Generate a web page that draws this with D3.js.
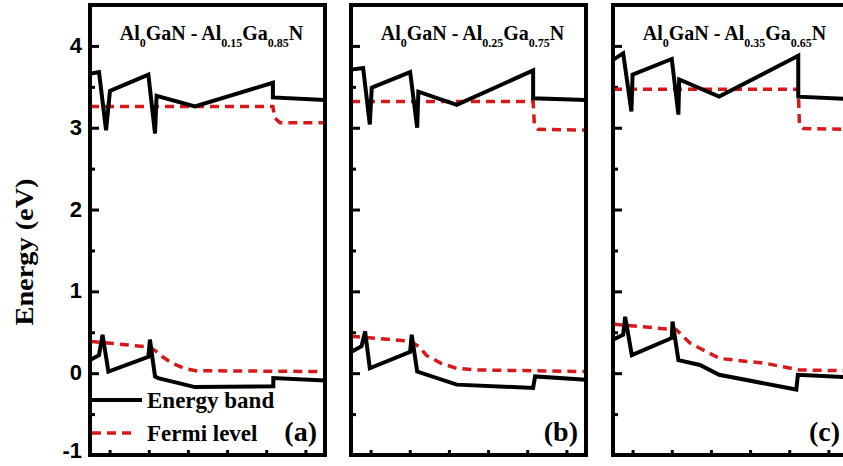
<!DOCTYPE html>
<meta charset="utf-8">
<style>
  body { margin: 0; background: #fff; }
  svg { display: block; font-family: "Liberation Serif", "Times New Roman", serif; font-weight: bold; }
</style>
<div id="chart"></div>
<script src="https://d3js.org/d3.v7.min.js"></script>
<script>
// panel tags and barrier composition
var panelTags = ["(a)", "(b)", "(c)"];
var alFraction = ["0.15", "0.25", "0.35"];
var gaFraction = ["0.85", "0.75", "0.65"];

// axis ticks
var yMajorTicks = [-1, 0, 1, 2, 3, 4];
var yMinorTicks = [-0.5, 0.5, 1.5, 2.5, 3.5];
var xTicks = [0.5, 1.5, 2.5, 3.5, 4.5, 5.5];

// conduction band edge [position, energy eV]
var condA = [[0, 3.66], [0.23, 3.68], [0.41, 2.97], [0.51, 3.45], [1.49, 3.65], [1.66, 2.93], [1.70, 3.39], [2.68, 3.26], [4.67, 3.55], [4.67, 3.37], [6, 3.34]];
var condB = [[0, 3.71], [0.31, 3.73], [0.48, 3.04], [0.53, 3.49], [1.51, 3.68], [1.69, 3.00], [1.72, 3.44], [2.70, 3.28], [4.65, 3.70], [4.65, 3.36], [6, 3.34]];
var condC = [[0, 3.83], [0.26, 3.91], [0.47, 3.20], [0.50, 3.65], [1.50, 3.84], [1.67, 3.16], [1.69, 3.59], [2.71, 3.38], [4.73, 3.88], [4.73, 3.38], [6, 3.35]];

// valence band edge
var valA = [[0, 0.16], [0.23, 0.22], [0.32, 0.47], [0.47, 0.02], [1.49, 0.20], [1.53, 0.41], [1.66, -0.04], [1.74, -0.06], [2.68, -0.17], [4.68, -0.16], [4.68, -0.06], [6, -0.09]];
var valB = [[0, 0.26], [0.27, 0.33], [0.36, 0.51], [0.48, 0.06], [1.51, 0.26], [1.55, 0.47], [1.69, 0.02], [2.70, -0.14], [4.65, -0.18], [4.70, -0.04], [6, -0.08]];
var valC = [[0, 0.41], [0.26, 0.47], [0.31, 0.69], [0.48, 0.22], [1.50, 0.43], [1.52, 0.63], [1.67, 0.16], [2.22, 0.10], [2.71, -0.02], [4.68, -0.20], [4.72, -0.02], [6, -0.05]];

// Fermi level (upper and lower)
var fermiTopA = [[0, 3.26], [4.67, 3.26], [4.72, 3.12], [4.85, 3.06], [6, 3.06]];
var fermiTopB = [[0, 3.32], [4.65, 3.32], [4.68, 3.05], [4.78, 2.98], [6, 2.97]];
var fermiTopC = [[0, 3.47], [4.73, 3.47], [4.76, 3.04], [4.86, 2.99], [6, 2.98]];
var fermiLowA = [[0, 0.39], [1.5, 0.32], [1.65, 0.28], [1.85, 0.20], [2.1, 0.12], [2.4, 0.06], [2.7, 0.03], [6, 0.02]];
var fermiLowB = [[0, 0.45], [1.51, 0.39], [1.75, 0.32], [1.92, 0.22], [2.3, 0.12], [2.69, 0.06], [3.2, 0.04], [6, 0.02]];
var fermiLowC = [[0, 0.60], [1.62, 0.53], [1.96, 0.37], [2.72, 0.18], [3.9, 0.12], [4.75, 0.04], [6, 0.03]];

var conduction = [condA, condB, condC];
var valence = [valA, valB, valC];
var fermiTop = [fermiTopA, fermiTopB, fermiTopC];
var fermiLow = [fermiLowA, fermiLowB, fermiLowC];

var W = 843, H = 466;
var panelLeft = [90, 351, 613];
var panelW = 235;
var red = "#d7191c";

var svg = d3.select("#chart").append("svg")
    .attr("width", W)
    .attr("height", H);

var x = d3.scaleLinear().domain([0, 6]).range([0, panelW]);
var y = d3.scaleLinear().domain([-1, 4.5]).range([455, 5]);

var line = d3.line()
    .x(function(d) { return x(d[0]); })
    .y(function(d) { return y(d[1]); });

panelTags.forEach(function(tag, i) {
  var g = svg.append("g").attr("transform", "translate(" + panelLeft[i] + ",0)");

  // y ticks, pointing inward
  var ya = g.append("g").call(d3.axisLeft(y).tickValues(yMajorTicks).tickSize(-9).tickPadding(8));
  var ym = g.append("g").call(d3.axisLeft(y).tickValues(yMinorTicks).tickSize(-5).tickFormat(""));
  var xa = g.append("g").attr("transform", "translate(0," + y(-1) + ")")
      .call(d3.axisBottom(x).tickValues(xTicks).tickSize(-5).tickFormat(""));
  [ya, ym, xa].forEach(function(a) {
    a.select(".domain").remove();
    a.selectAll("line").attr("stroke", "#000").attr("stroke-width", 3);
  });
  ya.selectAll("text")
      .style("font-size", "22px")
      .style("font-weight", "bold")
      .attr("fill", "#000")
      .attr("dy", "0.3em")
      .text(function(d) { return i === 0 ? d : ""; });
  // keep the lowest label inside the picture
  ya.selectAll("text").filter(function(d) { return d === -1; }).attr("dy", "0.12em");

  // lines
  g.append("path").datum(fermiTop[i]).attr("d", line)
      .attr("fill", "none").attr("stroke", red).attr("stroke-width", 3.5).attr("stroke-dasharray", "9,6");
  g.append("path").datum(fermiLow[i]).attr("d", line)
      .attr("fill", "none").attr("stroke", red).attr("stroke-width", 3.5).attr("stroke-dasharray", "9,6");
  g.append("path").datum(conduction[i]).attr("d", line)
      .attr("fill", "none").attr("stroke", "#000").attr("stroke-width", 4);
  g.append("path").datum(valence[i]).attr("d", line)
      .attr("fill", "none").attr("stroke", "#000").attr("stroke-width", 4);

  // frame
  g.append("rect")
      .attr("x", 0).attr("y", y(4.5))
      .attr("width", panelW).attr("height", y(-1) - y(4.5))
      .attr("fill", "none").attr("stroke", "#000").attr("stroke-width", 4);

  // title with subscripts
  var t = g.append("text")
      .attr("x", panelW / 2 + 4).attr("y", 40)
      .attr("text-anchor", "middle")
      .style("font-size", "20px");
  t.append("tspan").text("Al");
  t.append("tspan").attr("dy", 7).style("font-size", "12px").text("0");
  t.append("tspan").attr("dy", -7).text("GaN - Al");
  t.append("tspan").attr("dy", 7).style("font-size", "12px").text(alFraction[i]);
  t.append("tspan").attr("dy", -7).text("Ga");
  t.append("tspan").attr("dy", 7).style("font-size", "12px").text(gaFraction[i]);
  t.append("tspan").attr("dy", -7).text("N");

  // panel tag
  g.append("text")
      .attr("x", panelW - 8).attr("y", 441)
      .attr("text-anchor", "end")
      .style("font-size", "28px")
      .text(tag);
});

// legend in panel (a)
var leg = svg.append("g").attr("transform", "translate(" + panelLeft[0] + ",0)");
leg.append("line").attr("x1", 2).attr("x2", 52).attr("y1", 400).attr("y2", 400)
    .attr("stroke", "#000").attr("stroke-width", 4);
leg.append("text").attr("x", 57).attr("y", 408).style("font-size", "23px").text("Energy band");
leg.append("line").attr("x1", 2).attr("x2", 45).attr("y1", 433).attr("y2", 433)
    .attr("stroke", red).attr("stroke-width", 3.5).attr("stroke-dasharray", "9,6");
leg.append("text").attr("x", 57).attr("y", 441).style("font-size", "23px").text("Fermi level");

// y axis title
svg.append("text")
    .attr("transform", "translate(33,252) rotate(-90)")
    .attr("text-anchor", "middle")
    .attr("textLength", 147)
    .attr("lengthAdjust", "spacingAndGlyphs")
    .style("font-size", "26px")
    .text("Energy (eV)");
</script>
